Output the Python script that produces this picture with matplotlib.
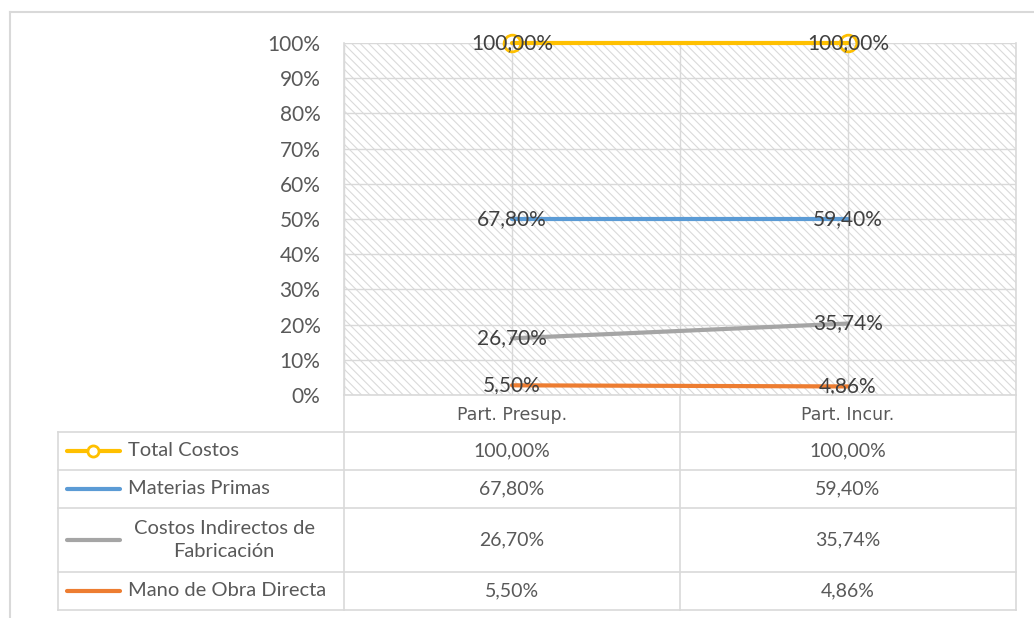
import numpy as np
import matplotlib
matplotlib.use('Agg')
import matplotlib.pyplot as plt
from matplotlib.patches import Rectangle

categorias = ['Part. Presup.', 'Part. Incur.']
series = ['Total Costos', 'Materias Primas', 'Costos Indirectos de\nFabricación', 'Mano de Obra Directa']
total_costos = [100.00, 100.00]
materias_primas = [67.80, 59.40]
costos_indirectos = [26.70, 35.74]
mano_obra = [5.50, 4.86]
colores = ['#FFC000', '#5B9BD5', '#A5A5A5', '#ED7D31']
yticks = list(range(0, 101, 10))

W, H = 1034, 618
plt.rcParams['hatch.linewidth'] = 0.8
fig = plt.figure(figsize=(W / 100, H / 100), dpi=100)

def fx(px):
    return px / W

def fy(py):
    return 1 - py / H

# plot area in pixels
L, R, T, B = 344, 1016, 43, 395
ax = fig.add_axes([fx(L), fy(B), fx(R) - fx(L), fy(T) - fy(B)])

vals = np.array([total_costos, materias_primas, costos_indirectos, mano_obra])
# 100% stacked line: Mano de Obra at bottom, Total on top
apilado = np.cumsum(vals[::-1], axis=0)[::-1] / vals.sum(axis=0) * 100

x = np.arange(len(categorias))
ax.add_patch(Rectangle((0, 0), 1, 1, transform=ax.transAxes, facecolor='white',
                       edgecolor='#dadada', hatch='\\\\\\\\', linewidth=0, zorder=0))
for yv in yticks:
    ax.axhline(yv, color='#d9d9d9', lw=1, zorder=1)
for xv in [-0.5, 0, 0.5, 1, 1.5]:
    ax.axvline(xv, color='#d9d9d9', lw=1, zorder=1)

for i in range(len(series) - 1, -1, -1):
    ax.plot(x, apilado[i], color=colores[i], lw=3, solid_capstyle='round', zorder=3, clip_on=False)
    if i == 0:
        ax.plot(x, apilado[i], ls='none', marker='o', ms=12, mfc='none', mec=colores[i],
                mew=2, zorder=4, clip_on=False)
    for xi, yi, v in zip(x, apilado[i], vals[i]):
        ax.text(xi, yi, f'{v:.2f}'.replace('.', ',') + '%', ha='center', va='center',
                fontsize=15, color='#404040', family='Lato', zorder=5)

ax.set_xlim(-0.5, 1.5)
ax.set_ylim(0, 100)
ax.set_yticks(yticks)
ax.set_yticklabels([f'{v}%' for v in yticks], fontsize=15, color='#595959', family='Lato')
ax.tick_params(axis='y', length=0, pad=17)
ax.set_xticks([])
for s in ax.spines.values():
    s.set_visible(False)

# overlay for table and frame
ov = fig.add_axes([0, 0, 1, 1], facecolor='none')
ov.set_xlim(0, W)
ov.set_ylim(H, 0)
ov.axis('off')
gc = '#d9d9d9'

# outer frame
ov.plot([10, W], [12, 12], color=gc, lw=1.5)
ov.plot([10, 10], [12, H], color=gc, lw=1.5)

# table geometry
filas = [432, 470, 508, 572, 610]
tl = 58
cx = [512, 848]
ov.plot([L, L], [T, filas[-1]], color=gc, lw=1.2)
ov.plot([680, 680], [B, filas[-1]], color=gc, lw=1.2)
ov.plot([R, R], [T, filas[-1]], color=gc, lw=1.2)
ov.plot([L, R], [B, B], color=gc, lw=1.2)
for yr in filas:
    ov.plot([tl, R], [yr, yr], color=gc, lw=1.2)
ov.plot([tl, tl], [filas[0], filas[-1]], color=gc, lw=1.2)

for c, xc in zip(categorias, cx):
    ov.text(xc, (B + filas[0]) / 2 + 1, c, ha='center', va='center', fontsize=12.5,
            color='#595959', family='DejaVu Sans')

for i, nombre in enumerate(series):
    yc = (filas[i] + filas[i + 1]) / 2
    ov.plot([67, 120], [yc, yc], color=colores[i], lw=3, solid_capstyle='round')
    if i == 0:
        ov.plot([93], [yc], marker='o', ms=8, mfc='white', mec=colores[i], mew=2)
    if '\n' in nombre:
        ov.text(224, yc, nombre, ha='center', va='center', fontsize=14.5, color='#595959',
                family='Lato', linespacing=1.4)
    else:
        ov.text(128, yc, nombre, ha='left', va='center', fontsize=14.5, color='#595959', family='Lato')
    for xc, v in zip(cx, vals[i]):
        ov.text(xc, yc, f'{v:.2f}'.replace('.', ',') + '%', ha='center', va='center',
                fontsize=14, color='#595959', family='Lato')

fig.savefig('out.png', dpi=100)
